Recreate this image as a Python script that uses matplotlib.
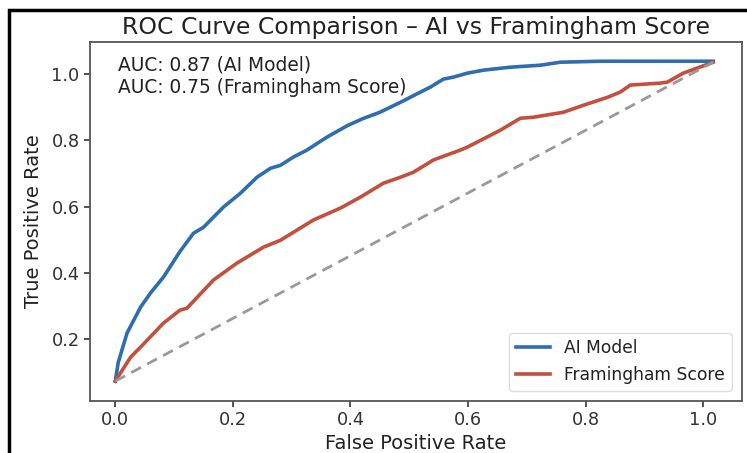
import matplotlib
matplotlib.use("Agg")
import matplotlib.pyplot as plt
from matplotlib.patches import Rectangle

# Data
ai_fpr = [0, 0.005, 0.02, 0.043, 0.06, 0.082, 0.11, 0.133, 0.15, 0.184, 0.213, 0.241, 0.264, 0.281,
          0.303, 0.326, 0.36, 0.395, 0.42, 0.45, 0.485, 0.507, 0.536, 0.558, 0.575, 0.599, 0.626,
          0.672, 0.723, 0.757, 0.825, 1.017]
ai_tpr = [0.074, 0.13, 0.219, 0.297, 0.34, 0.388, 0.465, 0.52, 0.538, 0.599, 0.641, 0.689, 0.716, 0.725,
          0.75, 0.771, 0.81, 0.845, 0.865, 0.885, 0.915, 0.935, 0.961, 0.985, 0.991, 1.003, 1.012,
          1.021, 1.027, 1.036, 1.039, 1.039]

fr_fpr = [0, 0.026, 0.046, 0.082, 0.11, 0.122, 0.167, 0.207, 0.252, 0.281, 0.337, 0.383, 0.417, 0.456,
          0.485, 0.507, 0.541, 0.587, 0.599, 0.655, 0.689, 0.711, 0.762, 0.796, 0.837, 0.859, 0.876,
          0.927, 0.939, 0.966, 1.017]
fr_tpr = [0.074, 0.146, 0.182, 0.249, 0.288, 0.294, 0.379, 0.43, 0.478, 0.499, 0.56, 0.596, 0.629, 0.671,
          0.689, 0.704, 0.741, 0.771, 0.78, 0.831, 0.867, 0.87, 0.885, 0.906, 0.93, 0.946, 0.967,
          0.973, 0.976, 1.003, 1.036]

diag_x = [0, 1.017]
diag_y = [0.074, 1.036]

auc_ai = 0.87
auc_fr = 0.75
labels = ["AI Model", "Framingham Score"]
xticks = [0.0, 0.2, 0.4, 0.6, 0.8, 1.0]
yticks = [0.2, 0.4, 0.6, 0.8, 1.0]

plt.rcParams['font.family'] = ['DejaVu Sans']

fig = plt.figure(figsize=(7.47, 4.53), dpi=100)
ax = fig.add_axes([90/747, 1 - 401/453, (742-90)/747, (401-42)/453])

ax.plot(ai_fpr, ai_tpr, color='#2f6db1', lw=2.6, label=labels[0])
ax.plot(fr_fpr, fr_tpr, color='#c2503d', lw=2.6, label=labels[1])
ax.plot(diag_x, diag_y, color='#999999', lw=2, ls=(0, (4, 2.5)))

ax.set_xlim(-0.043, 1.066)
ax.set_ylim(0.014, 1.097)
ax.set_xticks(xticks)
ax.set_yticks(yticks)
ax.tick_params(labelsize=12.8, colors='#333333', width=1.2, length=4)
for s in ax.spines.values():
    s.set_color('#555555')
    s.set_linewidth(1.3)

ax.set_title("ROC Curve Comparison – AI vs Framingham Score", fontsize=16.9, color='#222222', pad=6)
ax.set_xlabel("False Positive Rate", fontsize=14, color='#222222', labelpad=3)
ax.set_ylabel("True Positive Rate", fontsize=14, color='#222222', labelpad=6)

ax.text(0.043, 0.962, f"AUC: {auc_ai:.2f} ({labels[0]})\nAUC: {auc_fr:.2f} ({labels[1]})",
        transform=ax.transAxes, fontsize=13.4, va='top', ha='left', color='#222222',
        linespacing=1.25)

leg = ax.legend(loc='lower right', fontsize=12.3, framealpha=1, edgecolor='#dddddd',
                handlelength=2.0, fancybox=True, borderaxespad=0.6)
for t in leg.get_texts():
    t.set_color('#222222')

# outer black frame (cropped at right/bottom)
fig.patches.append(Rectangle((9/747, -0.1), 1.2, 1 - 10/453 + 0.1, transform=fig.transFigure,
                             fill=False, edgecolor='black', lw=2.5))

fig.savefig("out.png", dpi=100)
